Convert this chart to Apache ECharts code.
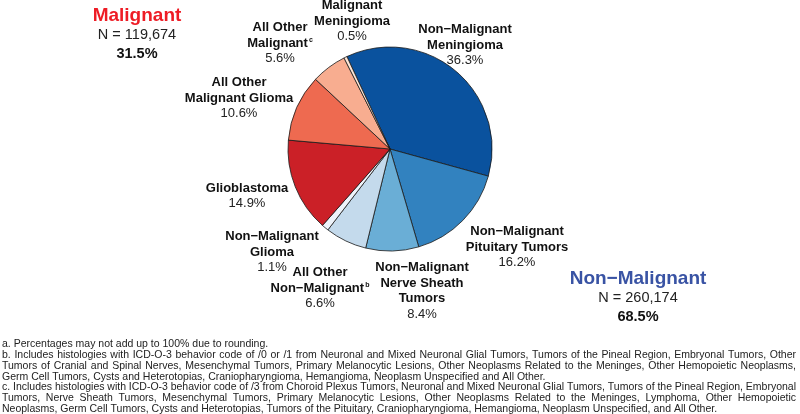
<!DOCTYPE html>
<html>
<head>
<meta charset="utf-8">
<script src="https://cdn.jsdelivr.net/npm/echarts@6/dist/echarts.min.js"></script>
<style>html,body{margin:0;padding:0;background:#fff}#c{width:800px;height:414px}</style>
</head>
<body>
<div id="c"></div>
<script>
// ---- data ----
const categories = ['Non\u2212Malignant\nMeningioma', 'Non\u2212Malignant\nPituitary Tumors', 'Non\u2212Malignant\nNerve Sheath\nTumors', 'All Other\nNon\u2212Malignant', 'Non\u2212Malignant\nGlioma', 'Glioblastoma', 'All Other\nMalignant Glioma', 'All Other\nMalignant', 'Malignant\nMeningioma'];
const percents = [36.3, 16.2, 8.4, 6.6, 1.1, 14.9, 10.6, 5.6, 0.5];
const footMarks = ['', '', '', 'b', '', '', '', 'c', ''];
const groupTitles = ['Malignant', 'Non\u2212Malignant'];
const groupCounts = ['N = 119,674', 'N = 260,174'];
const groupPercents = ['31.5%', '68.5%'];
const footnotes = [
  'a. Percentages may not add up to 100% due to rounding.',
  'b. Includes histologies with ICD-O-3 behavior code of /0 or /1 from Neuronal and Mixed Neuronal Glial Tumors, Tumors of the Pineal Region, Embryonal Tumors, Other',
  'Tumors of Cranial and Spinal Nerves, Mesenchymal Tumors, Primary Melanocytic Lesions, Other Neoplasms Related to the Meninges, Other Hemopoietic Neoplasms,',
  'Germ Cell Tumors, Cysts and Heterotopias, Craniopharyngioma, Hemangioma, Neoplasm Unspecified and All Other.',
  'c. Includes histologies with ICD-O-3 behavior code of /3 from Choroid Plexus Tumors, Neuronal and Mixed Neuronal Glial Tumors, Tumors of the Pineal Region, Embryonal',
  'Tumors, Nerve Sheath Tumors, Mesenchymal Tumors, Primary Melanocytic Lesions, Other Neoplasms Related to the Meninges, Lymphoma, Other Hemopoietic',
  'Neoplasms, Germ Cell Tumors, Cysts and Heterotopias, Tumors of the Pituitary, Craniopharyngioma, Hemangioma, Neoplasm Unspecified, and All Other.'
];
const justified = [false, true, true, false, true, true, false];

// ---- styling / layout (not data) ----
const colors = ['#0a529e', '#3282bf', '#6aaed6', '#c4daec', '#eef3fa', '#cb2027', '#ee6a50', '#f8ad90', '#fde6d8'];
const labelPos = [[465, 45], [517, 247], [422, 291], [320, 288], [272, 252], [247, 196], [239, 98], [280, 43], [352, 21]];
const FONT = 'Liberation Sans, Arial, Helvetica, sans-serif';

const chart = echarts.init(document.getElementById('c'), null, {renderer: 'canvas'});

function labelFormatter(p) {
  const i = p.dataIndex;
  const lines = categories[i].split('\n');
  const parts = lines.map((l, k) => '{b|' + l + '}' + (k === lines.length - 1 && footMarks[i] ? '{s|' + footMarks[i] + '}' : ''));
  return parts.join('\n') + '\n{p|' + percents[i].toFixed(1) + '%}';
}

// footnote graphics with justification
const ctx = document.createElement('canvas').getContext('2d');
const fnSize = 10.5;
ctx.font = fnSize + 'px ' + FONT;
const fnLeft = 2, fnRight = 796, fnTop = 344, fnStep = 10.9;
const fnGraphics = [];
footnotes.forEach((line, li) => {
  const y = fnTop + li * fnStep;
  if (!justified[li]) {
    fnGraphics.push({type: 'text', x: fnLeft, y: y, style: {text: line, font: fnSize + 'px ' + FONT, fill: '#222', verticalAlign: 'middle'}});
    return;
  }
  const words = line.split(' ');
  const widths = words.map(w => ctx.measureText(w).width);
  const total = widths.reduce((a, b) => a + b, 0);
  const gap = (fnRight - fnLeft - total) / (words.length - 1);
  let x = fnLeft;
  words.forEach((w, k) => {
    fnGraphics.push({type: 'text', x: x, y: y, style: {text: w, font: fnSize + 'px ' + FONT, fill: '#222', verticalAlign: 'middle'}});
    x += widths[k] + gap;
  });
});

function header(cx, cy, gi, color) {
  return [
    {type: 'text', x: cx, y: cy, style: {text: groupTitles[gi], font: 'bold 19px ' + FONT, fill: color, align: 'center', verticalAlign: 'middle'}},
    {type: 'text', x: cx, y: cy + 19, style: {text: groupCounts[gi], font: '14.5px ' + FONT, fill: '#222', align: 'center', verticalAlign: 'middle'}},
    {type: 'text', x: cx, y: cy + 38, style: {text: groupPercents[gi], font: 'bold 14.5px ' + FONT, fill: '#111', align: 'center', verticalAlign: 'middle'}}
  ];
}

const option = {
  backgroundColor: '#fff',
  animation: false,
  graphic: [].concat(header(137, 16, 0, '#ee1c25'), header(638, 279, 1, '#3953a4'), fnGraphics),
  series: [{
    type: 'pie',
    center: [390, 149],
    radius: [0, 102],
    startAngle: 115,
    clockwise: true,
    avoidLabelOverlap: false,
    data: percents.map((v, i) => ({value: v, name: categories[i], itemStyle: {color: colors[i]}})),
    itemStyle: {borderColor: '#1a1a1a', borderWidth: 0.8},
    label: {
      show: true,
      position: 'outside',
      formatter: labelFormatter,
      fontFamily: FONT,
      rich: {
        b: {fontFamily: FONT, fontWeight: 'bold', fontSize: 13, lineHeight: 15.5, color: '#111'},
        p: {fontFamily: FONT, fontSize: 13, lineHeight: 15.5, color: '#222'},
        s: {fontFamily: FONT, fontWeight: 'bold', fontSize: 7, lineHeight: 15.5, verticalAlign: 'top', color: '#111', padding: [1, 0, 0, 1]}
      }
    },
    labelLine: {show: false},
    labelLayout: function (params) {
      const p = labelPos[params.dataIndex];
      return {x: p[0], y: p[1], align: 'center', verticalAlign: 'middle'};
    },
    emphasis: {disabled: true}
  }]
};
chart.setOption(option);
</script>
</body>
</html>
